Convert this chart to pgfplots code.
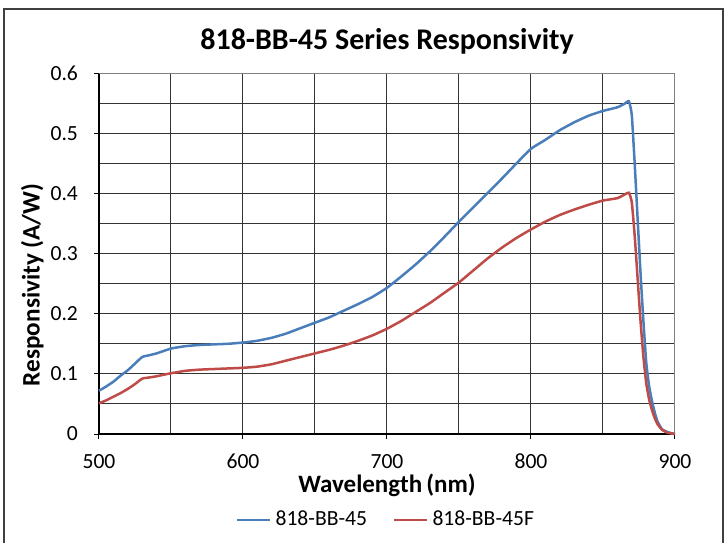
\documentclass[border=0pt]{standalone}
\usepackage{pgfplots}
\pgfplotsset{compat=1.18}
\usepackage{fontspec}
\setmainfont{Carlito}
\definecolor{xlblue}{HTML}{4A7EBB}
\definecolor{xlred}{HTML}{BE4B48}
\begin{document}
\begin{tikzpicture}
% 1 px of the reference = 0.5pt
\useasboundingbox (0,0) rectangle (364pt,271pt);
\draw[black!75, line width=0.6pt] (2pt,-1pt) -- (2pt,266.5pt) -- (361.5pt,266.5pt) -- (361.5pt,-1pt);
\begin{axis}[
    at={(49.5pt,54pt)}, anchor=south west,
    scale only axis, width=288pt, height=180.5pt,
    xmin=500, xmax=900, ymin=0, ymax=0.6,
    xtick={500,600,700,800,900},
    ytick={0,0.1,0.2,0.3,0.4,0.5,0.6},
    minor x tick num=1, minor y tick num=1,
    xmajorgrids, ymajorgrids, xminorgrids, yminorgrids,
    major grid style={black!80, line width=0.5pt},
    minor grid style={black!80, line width=0.5pt},
    minor tick length=0pt,
    tick align=outside, major tick length=2.5pt,
    tick style={black, line width=0.5pt},
    axis x line*=bottom, axis y line*=left,
    x axis line style={black, line width=0.6pt, -},
    y axis line style={black, line width=0.6pt, -},
    /pgf/number format/assume math mode=true,
    ticklabel style={font=\fontsize{10.8}{13}\selectfont},
    xticklabel style={yshift=-4pt},
    yticklabel style={xshift=-4.5pt},
    every axis title shift=0pt,
    title={\textbf{818-BB-45 Series Responsivity}},
    title style={font=\fontsize{15}{18}\selectfont, at={(0.5,1.087)}, anchor=center},
    xlabel={\textbf{Wavelength\,(nm)}},
    ylabel={\textbf{Responsivity (A/W)}},
    xlabel style={font=\fontsize{12.5}{15}\selectfont, at={(axis description cs:0.5,-0.141)}, anchor=center},
    ylabel style={font=\fontsize{12.6}{15}\selectfont, at={(axis description cs:-0.116,0.413)}, anchor=center, rotate=0},
    legend columns=2,
    legend style={at={(0.5,-0.238)}, anchor=center, draw=none, fill=none,
        font=\fontsize{10.8}{13}\selectfont,
        /tikz/every even column/.append style={column sep=11pt}},
    legend image code/.code={\draw[#1] (0pt,0pt) -- (16.5pt,0pt);},
    clip=false,
]
\draw[black!50, line width=0.5pt] (axis cs:500,0.6) -- (axis cs:900,0.6) -- (axis cs:900,0);
\addplot[color=xlblue, line width=1.25pt, smooth, tension=0.3] coordinates {
    (500,0.072) (505,0.079) (510,0.087) (515,0.097) (520,0.106) (525,0.117)
    (530,0.128) (535,0.131) (540,0.134) (550,0.142) (560,0.146) (570,0.148)
    (580,0.149) (590,0.150) (600,0.152) (610,0.155) (620,0.160) (630,0.167)
    (640,0.176) (650,0.185) (660,0.194) (670,0.205) (680,0.216) (690,0.228)
    (700,0.243) (710,0.262) (720,0.282) (730,0.304) (740,0.328) (750,0.353)
    (760,0.377) (770,0.401) (780,0.425) (790,0.450) (800,0.474) (810,0.489)
    (820,0.505) (830,0.518) (840,0.529) (850,0.537) (860,0.543) (865,0.549)
    (868,0.553) (870,0.530) (872,0.450) (874,0.360) (876,0.270) (878,0.190)
    (880,0.120) (882,0.080) (884,0.055) (886,0.035) (888,0.020) (891,0.008)
    (895,0.003) (900,0.000)
};
\addplot[color=xlred, line width=1.25pt, smooth, tension=0.3] coordinates {
    (500,0.051) (505,0.056) (510,0.062) (515,0.068) (520,0.075) (525,0.083)
    (530,0.092) (535,0.094) (540,0.096) (550,0.101) (560,0.105) (570,0.107)
    (580,0.108) (590,0.109) (600,0.110) (610,0.112) (620,0.116) (630,0.122)
    (640,0.128) (650,0.134) (660,0.140) (670,0.147) (680,0.155) (690,0.164)
    (700,0.175) (710,0.188) (720,0.203) (730,0.218) (740,0.235) (750,0.252)
    (760,0.272) (770,0.292) (780,0.310) (790,0.326) (800,0.340) (810,0.353)
    (820,0.364) (830,0.373) (840,0.381) (850,0.388) (860,0.392) (865,0.398)
    (868,0.401) (870,0.385) (872,0.330) (874,0.260) (876,0.190) (878,0.130)
    (880,0.085) (882,0.058) (884,0.040) (886,0.026) (888,0.016) (891,0.007)
    (895,0.002) (900,0.000)
};
\legend{818-BB-45,818-BB-45F}
\end{axis}
\end{tikzpicture}
\end{document}
